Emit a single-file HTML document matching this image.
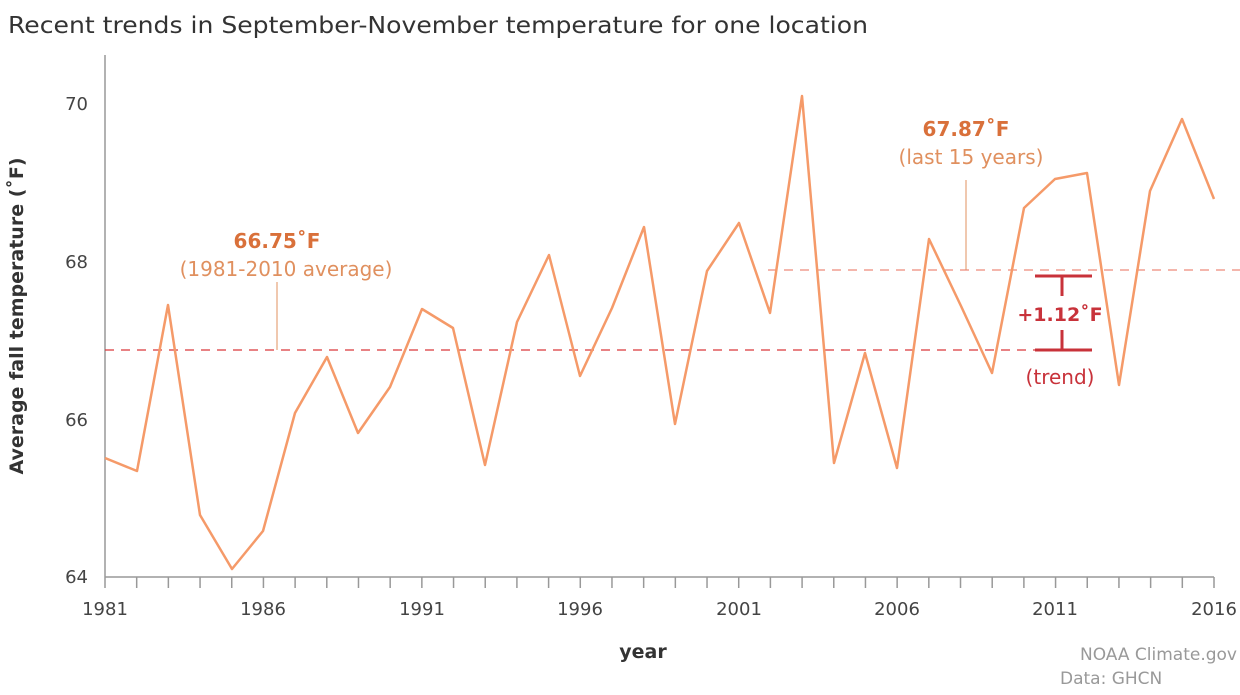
<!DOCTYPE html>
<html><head><meta charset="utf-8"><style>
body{margin:0;background:#fff;}
svg text{font-family:"DejaVu Sans","Liberation Sans",sans-serif;}
</style></head><body>
<svg width="1240" height="690" xmlns="http://www.w3.org/2000/svg">
<rect width="1240" height="690" fill="#fff"/>
<text x="8" y="33" font-size="23" fill="#333" textLength="860" lengthAdjust="spacingAndGlyphs">Recent trends in September-November temperature for one location</text>
<line x1="105" y1="55" x2="105" y2="577" stroke="#999" stroke-width="1.5"/>
<line x1="105" y1="577" x2="1214" y2="577" stroke="#999" stroke-width="1.5"/>
<g stroke="#999" stroke-width="1.5" id="ticks"></g>
<g font-size="18" fill="#444" text-anchor="end">
<text x="88" y="110">70</text><text x="88" y="268">68</text><text x="88" y="426">66</text><text x="88" y="583">64</text>
</g>
<g font-size="18" fill="#444" text-anchor="middle">
<text x="105" y="615">1981</text><text x="263" y="615">1986</text><text x="422" y="615">1991</text><text x="580" y="615">1996</text><text x="739" y="615">2001</text><text x="897" y="615">2006</text><text x="1055" y="615">2011</text><text x="1214" y="615">2016</text>
</g>
<text x="643" y="658" font-size="19" font-weight="bold" fill="#333" text-anchor="middle">year</text>
<text transform="translate(23,316) rotate(-90)" font-size="19" font-weight="bold" fill="#333" text-anchor="middle">Average fall temperature (˚F)</text>
<line x1="105" y1="350" x2="1035" y2="350" stroke="#d9383a" stroke-width="1.3" stroke-dasharray="9,7"/>
<line x1="768" y1="270" x2="1240" y2="270" stroke="#ee8a7a" stroke-width="1.3" stroke-dasharray="9,7"/>
<line x1="277" y1="282" x2="277" y2="350" stroke="#e0905f" stroke-width="1"/>
<line x1="966" y1="180" x2="966" y2="270" stroke="#e0905f" stroke-width="1"/>
<polyline fill="none" stroke="#f59a69" stroke-width="2.5" stroke-linejoin="round" points="105,458 137,471 168,305 200,515 232,569 263,531 295,413 327,357 358,433 390,387 422,309 453,328 485,465 517,322 549,255 580,376 612,308 644,227 675,424 707,271 739,223 770,313 802,96 834,463 865,353 897,468 929,239 961,306 992,373 1024,208 1055,179 1087,173 1119,385 1150,191 1182,119 1214,199"/>
<g stroke="#c8323a" stroke-width="3">
<line x1="1035" y1="276" x2="1092" y2="276"/><line x1="1035" y1="350" x2="1092" y2="350"/>
<line x1="1062" y1="276" x2="1062" y2="296"/><line x1="1062" y1="330" x2="1062" y2="350"/>
</g>
<text x="1060" y="321" font-size="19" font-weight="bold" fill="#c8323a" text-anchor="middle">+1.12˚F</text>
<text x="1060" y="384" font-size="20" fill="#c8323a" text-anchor="middle">(trend)</text>
<text x="277" y="248" font-size="20" font-weight="bold" fill="#d9703a" text-anchor="middle">66.75˚F</text>
<text x="286" y="276" font-size="20" fill="#e0905f" text-anchor="middle">(1981-2010 average)</text>
<text x="966" y="136" font-size="20" font-weight="bold" fill="#d9703a" text-anchor="middle">67.87˚F</text>
<text x="971" y="164" font-size="20" fill="#e0905f" text-anchor="middle">(last 15 years)</text>
<text x="1237" y="660" font-size="17" fill="#999" text-anchor="end">NOAA Climate.gov</text>
<text x="1060" y="684" font-size="17" fill="#999">Data: GHCN</text>
<script>
var g=document.getElementById('ticks');
for(var i=0;i<=35;i++){var x=105+i*1109/35;var l=document.createElementNS('http://www.w3.org/2000/svg','line');l.setAttribute('x1',x);l.setAttribute('x2',x);l.setAttribute('y1',577);l.setAttribute('y2',588);g.appendChild(l);}
</script>
</svg>
</body></html>
